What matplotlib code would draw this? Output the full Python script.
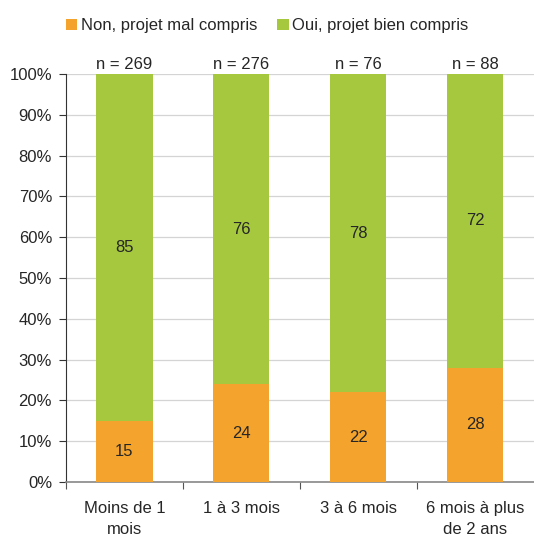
import matplotlib
matplotlib.use("Agg")
import matplotlib.pyplot as plt
from matplotlib.patches import Patch

categories = ["Moins de 1\nmois", "1 à 3 mois", "3 à 6 mois", "6 mois à plus\nde 2 ans"]
non_values = [15, 24, 22, 28]
oui_values = [85, 76, 78, 72]
n_labels = ["n = 269", "n = 276", "n = 76", "n = 88"]
series_names = ["Non, projet mal compris", "Oui, projet bien compris"]

ORANGE = "#F4A42C"
GREEN = "#A5C83F"
TEXT = "#262626"
FS = 12

plt.rcParams["font.family"] = ["Liberation Sans", "DejaVu Sans"]
plt.rcParams["font.size"] = FS

fig = plt.figure(figsize=(5.34, 5.36), dpi=100)
ax = fig.add_axes([0.1236, 0.1007, 0.876, 0.7613])

x = list(range(len(categories)))
width = 0.48
ax.bar(x, non_values, width, color=ORANGE, zorder=3)
ax.bar(x, oui_values, width, bottom=non_values, color=GREEN, zorder=3)

for i in x:
    ax.text(i, non_values[i] / 2, f"{non_values[i]}", ha="center", va="center",
            color=TEXT, fontsize=FS, zorder=4)
    ax.text(i, non_values[i] + oui_values[i] / 2, f"{oui_values[i]}", ha="center",
            va="center", color=TEXT, fontsize=FS, zorder=4)
    ax.text(i, 100.6, n_labels[i], ha="center", va="bottom", color=TEXT,
            fontsize=FS, clip_on=False)

ax.set_xlim(-0.5, 3.5)
ax.set_ylim(0, 100)
ax.set_yticks(range(0, 101, 10))
ax.set_yticklabels([f"{v}%" for v in range(0, 101, 10)], color=TEXT)
ax.yaxis.grid(True, color="#D4D4D4", linewidth=0.9, zorder=0)
ax.set_axisbelow(True)

# category boundary ticks, labels centred under the bars
ax.set_xticks([-0.5, 0.5, 1.5, 2.5])
ax.set_xticklabels([])
ax.set_xticks(x, minor=True)
ax.set_xticklabels(categories, minor=True, color=TEXT, linespacing=1.5)
ax.tick_params(axis="x", which="major", length=5, direction="out", color="#555555")
ax.tick_params(axis="x", which="minor", length=0, pad=14)
ax.tick_params(axis="y", length=5, direction="out", color="#333333", pad=5)

for side in ["top", "right"]:
    ax.spines[side].set_visible(False)
ax.spines["left"].set_color("#333333")
ax.spines["bottom"].set_color("#888888")
ax.spines["bottom"].set_linewidth(1.2)

handles = [Patch(facecolor=ORANGE), Patch(facecolor=GREEN)]
fig.legend(handles, series_names, loc="center", bbox_to_anchor=(0.5, 0.952),
           ncol=2, frameon=False, handlelength=0.7, handleheight=0.7,
           handletextpad=0.2, columnspacing=1.2, fontsize=FS,
           labelcolor=TEXT)

fig.savefig("out.png", dpi=100)
